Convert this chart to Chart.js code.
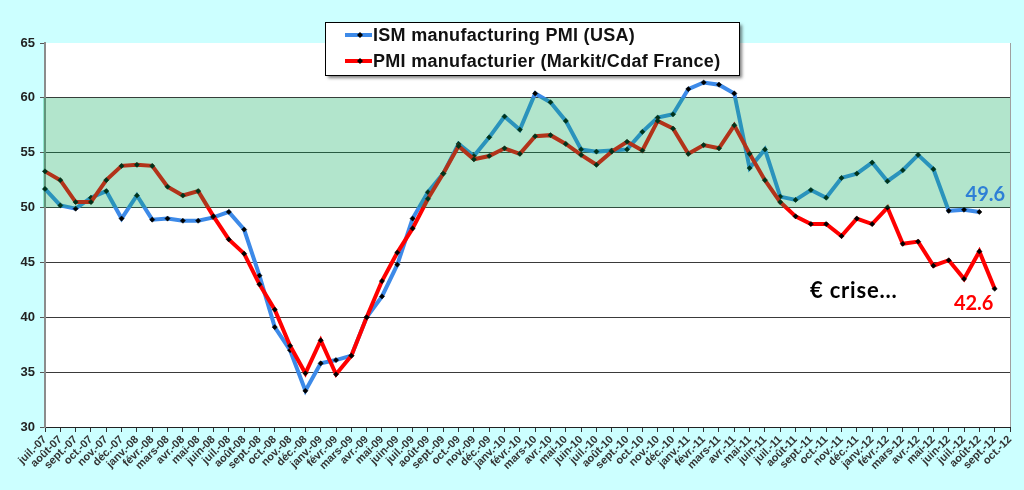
<!DOCTYPE html>
<html><head><meta charset="utf-8">
<script src="https://cdn.jsdelivr.net/npm/chart.js@4.4.0/dist/chart.umd.min.js"></script>
<style>html,body{margin:0;padding:0;background:#ccffff;overflow:hidden}#wrap{position:relative;width:1024px;height:490px}</style>
</head><body><div id="wrap"><canvas id="c" width="1024" height="490"></canvas></div>
<script>
const months = [
 'juil.-07','août-07','sept.-07','oct.-07','nov.-07','déc.-07',
 'janv.-08','févr.-08','mars-08','avr.-08','mai-08','juin-08','juil.-08','août-08','sept.-08','oct.-08','nov.-08','déc.-08',
 'janv.-09','févr.-09','mars-09','avr.-09','mai-09','juin-09','juil.-09','août-09','sept.-09','oct.-09','nov.-09','déc.-09',
 'janv.-10','févr.-10','mars-10','avr.-10','mai-10','juin-10','juil.-10','août-10','sept.-10','oct.-10','nov.-10','déc.-10',
 'janv.-11','févr.-11','mars-11','avr.-11','mai-11','juin-11','juil.-11','août-11','sept.-11','oct.-11','nov.-11','déc.-11',
 'janv.-12','févr.-12','mars-12','avr.-12','mai-12','juin-12','juil.-12','août-12','sept.-12','oct.-12'
];
const ismUSA = [
 51.7,50.2,49.9,50.9,51.5,49.0,
 51.1,48.9,49.0,48.8,48.8,49.1,49.6,48.0,43.8,39.1,37.0,33.3,
 35.8,36.1,36.5,40.0,41.9,44.8,49.0,51.4,53.1,55.8,54.7,56.4,
 58.3,57.1,60.4,59.6,57.9,55.3,55.1,55.2,55.3,56.9,58.2,58.5,
 60.8,61.4,61.2,60.4,53.6,55.3,51.0,50.7,51.6,50.9,52.7,53.1,
 54.1,52.4,53.4,54.8,53.5,49.7,49.8,49.6,null,null
];
const pmiFrance = [
 53.3,52.5,50.5,50.5,52.5,53.8,
 53.9,53.8,51.9,51.1,51.5,49.2,47.1,45.8,43.0,40.7,37.4,34.9,
 37.9,34.8,36.5,40.0,43.3,45.9,48.1,50.8,53.1,55.6,54.4,54.7,
 55.4,54.9,56.5,56.6,55.8,54.8,53.9,55.1,56.0,55.2,57.9,57.2,
 54.9,55.7,55.4,57.5,54.9,52.5,50.5,49.2,48.5,48.5,47.4,49.0,
 48.5,50.0,46.7,46.9,44.7,45.2,43.5,46.0,42.6,null
];
const seriesNames = ['ISM manufacturing PMI (USA)','PMI manufacturier (Markit/Cdaf France)'];
const yMin = 30, yMax = 65, yStep = 5;
const bandLow = 50, bandHigh = 60;
const noteText = '€ crise...';
const notePos = [52.8, 42.4];

const BLUE = '#3d8ae8', RED = '#ff0000';

function lastIndex(arr){ for(let i=arr.length-1;i>=0;i--) if(arr[i]!==null) return i; return -1; }

const deco = {
 id:'deco',
 beforeDraw(chart){
  const {ctx, chartArea:a} = chart;
  ctx.save();
  ctx.fillStyle='#ccffff'; ctx.fillRect(0,0,chart.width,chart.height);
  ctx.fillStyle='#ffffff'; ctx.fillRect(a.left,a.top,a.right-a.left,a.bottom-a.top);
  ctx.restore();
 },
 afterDatasetsDraw(chart){
  const {ctx, chartArea:a, scales:{y}} = chart;
  const y1 = y.getPixelForValue(bandHigh), y2 = y.getPixelForValue(bandLow);
  ctx.save();
  ctx.fillStyle='rgba(0,170,85,0.30)';
  ctx.fillRect(a.left-2, y1, a.right-a.left+2, y2-y1);
  ctx.strokeStyle='#a0a0a0'; ctx.lineWidth=1;
  ctx.beginPath(); ctx.moveTo(a.right+0.5,a.top); ctx.lineTo(a.right+0.5,a.bottom); ctx.stroke();
  ctx.restore();
 },
 afterDraw(chart){
  const {ctx, scales:{x,y}} = chart;
  ctx.save();
  ctx.textAlign='center'; ctx.textBaseline='middle';
  ctx.font='bold 20px Lato';
  const bi = lastIndex(ismUSA), ri = lastIndex(pmiFrance);
  ctx.fillStyle='#2e7fd6';
  ctx.fillText(ismUSA[bi].toFixed(1), x.getPixelForValue(bi)+6, y.getPixelForValue(ismUSA[bi])-17);
  ctx.fillStyle=RED;
  ctx.fillText(pmiFrance[ri].toFixed(1), x.getPixelForValue(ri)-21, y.getPixelForValue(pmiFrance[ri])+15);
  ctx.fillStyle='#000';
  ctx.font='bold 22px Lato';
  try{ ctx.letterSpacing='0.8px'; }catch(e){}
  ctx.fillText(noteText, x.getPixelForValue(notePos[0]), y.getPixelForValue(notePos[1]));
  try{ ctx.letterSpacing='0px'; }catch(e){}
  ctx.restore();
  const bx=325, by=22, bw=414, bh=53;
  ctx.save();
  ctx.shadowColor='rgba(0,0,0,0.5)'; ctx.shadowOffsetX=3; ctx.shadowOffsetY=3; ctx.shadowBlur=3;
  ctx.fillStyle='#fff'; ctx.fillRect(bx,by,bw,bh);
  ctx.restore();
  ctx.save();
  ctx.strokeStyle='#000'; ctx.lineWidth=1; ctx.strokeRect(bx+0.5,by+0.5,bw,bh);
  const rows=[35,61];
  chart.data.datasets.slice().sort((p,q)=>p.legendOrder-q.legendOrder).forEach((ds,k)=>{
    const ry=rows[k];
    ctx.strokeStyle=ds.borderColor; ctx.lineWidth=4; ctx.lineCap='butt';
    ctx.beginPath(); ctx.moveTo(345,ry); ctx.lineTo(372,ry); ctx.stroke();
    ctx.fillStyle='#000';
    ctx.beginPath(); ctx.moveTo(360,ry-3); ctx.lineTo(363,ry); ctx.lineTo(360,ry+3); ctx.lineTo(357,ry); ctx.closePath(); ctx.fill();
    ctx.fillStyle='#111'; ctx.font='bold 18px "Liberation Sans", Arial, sans-serif';
    ctx.textAlign='left'; ctx.textBaseline='middle';
    try{ ctx.letterSpacing='0.3px'; }catch(e){}
    ctx.fillText(ds.label, 373, ry+1);
    try{ ctx.letterSpacing='0px'; }catch(e){}
  });
  ctx.restore();
 }
};

new Chart(document.getElementById('c'), {
 type:'line',
 data:{
  labels: months,
  datasets:[
   {label:seriesNames[0], data:ismUSA, borderColor:BLUE, backgroundColor:BLUE, borderWidth:4, order:1, legendOrder:0,
    pointStyle:'rectRot', pointRadius:2.6, pointBackgroundColor:'#000', pointBorderColor:'#000', pointBorderWidth:0.5, tension:0, spanGaps:false},
   {label:seriesNames[1], data:pmiFrance, borderColor:RED, backgroundColor:RED, borderWidth:4, order:0, legendOrder:1,
    pointStyle:'rectRot', pointRadius:2.6, pointBackgroundColor:'#000', pointBorderColor:'#000', pointBorderWidth:0.5, tension:0, spanGaps:false}
  ]
 },
 options:{
  responsive:false, animation:false, devicePixelRatio:1,
  layout:{padding:{top:43,right:14,left:0,bottom:0}},
  plugins:{legend:{display:false}, tooltip:{enabled:false}},
  scales:{
   x:{
    offset:false,
    afterFit(s){ s.height = 63; },
    grid:{drawOnChartArea:false, drawTicks:true, tickLength:5, color:'#333'},
    border:{color:'#222', width:1},
    ticks:{autoSkip:false, minRotation:45, maxRotation:45, padding:1, color:'#333',
      font:{family:'"Liberation Sans", Arial, sans-serif', size:11, weight:'bold'}}
   },
   y:{
    min:yMin, max:yMax,
    afterFit(s){ s.width = 45; },
    grid:{color:(c)=> (c.tick && c.tick.value===yMax) ? 'rgba(0,0,0,0)' : '#3a3a3a', lineWidth:1, tickLength:5, tickColor:'#555'},
    border:{color:'#8c8c8c', width:2},
    ticks:{stepSize:yStep, padding:5, color:'#222',
      font:{family:'"Liberation Sans", Arial, sans-serif', size:13, weight:'bold'}}
   }
  }
 },
 plugins:[deco]
});
</script>
</body></html>
